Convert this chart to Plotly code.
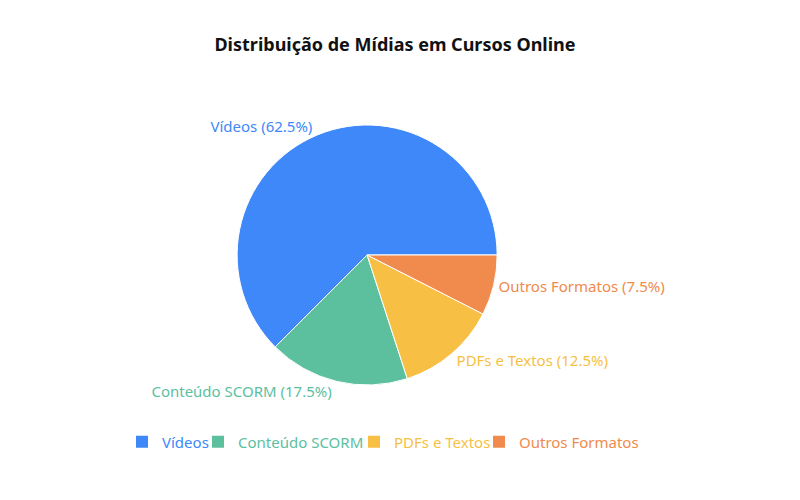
import plotly.graph_objects as go

labels = ["Vídeos", "Conteúdo SCORM", "PDFs e Textos", "Outros Formatos"]
values = [62.5, 17.5, 12.5, 7.5]
colors = ["#3E88F9", "#5CC09F", "#F7BF43", "#F08A4D"]

fig = go.Figure(go.Pie(
    labels=labels,
    values=values,
    sort=False,
    direction="counterclockwise",
    rotation=225,
    domain=dict(x=[0.075, 1.0], y=[0, 1]),
    marker=dict(colors=colors, line=dict(color="white", width=1)),
    textposition="outside",
    texttemplate="%{label} (%{percent:.1%})",
    outsidetextfont=dict(color=colors, size=15),
    hovertemplate="%{label}: %{value}%<extra></extra>",
    showlegend=False,
))

# one legend per entry so the row keeps the reference spacing and text colours
legend_x = [0.1425, 0.2375, 0.4325, 0.58875]
for i, (lab, col) in enumerate(zip(labels, colors)):
    lid = "legend" if i == 0 else f"legend{i + 1}"
    fig.add_trace(go.Scatter(
        x=[None], y=[None], mode="markers",
        marker=dict(symbol="square", size=12, color=col),
        name=f"<span style='color:{col}'>{lab}</span>",
        legend=lid, hoverinfo="skip",
    ))
    fig.update_layout({lid: dict(orientation="h", xref="container", yref="container",
                                 x=legend_x[i], xanchor="left", y=0.132, yanchor="middle",
                                 font=dict(size=15), itemclick=False, itemwidth=30,
                                 bgcolor="rgba(0,0,0,0)")})

fig.update_layout(
    width=800, height=500,
    font=dict(family="Noto Sans, Open Sans, sans-serif", size=15),
    title=dict(text="<b>Distribuição de Mídias em Cursos Online</b>",
               x=0.48375, xanchor="center", y=0.926, yanchor="middle",
               font=dict(size=18, color="#111")),
    margin=dict(l=0, r=0, t=117, b=123),
    xaxis=dict(visible=False),
    yaxis=dict(visible=False),
    plot_bgcolor="white",
    paper_bgcolor="white",
)

fig.write_html("out.html")
